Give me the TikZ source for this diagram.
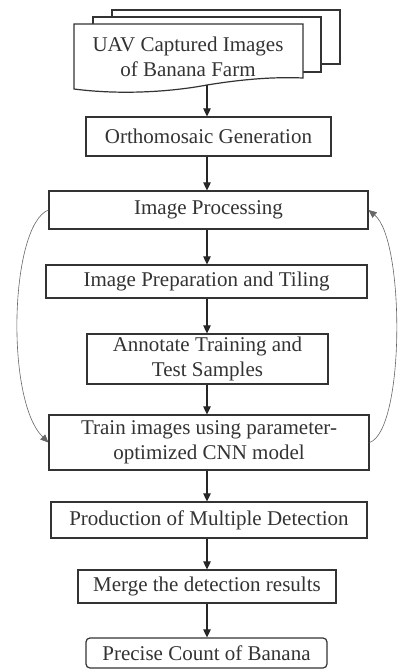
\documentclass[tikz,border=0pt]{standalone}
\usepackage{fontspec}
\setmainfont{Liberation Serif}
\usetikzlibrary{arrows.meta}
\begin{document}
\begin{tikzpicture}[x=1pt,y=-1pt,
  box/.style={draw=black!80, line width=1.2pt, fill=white, inner sep=0pt, align=center,
    font=\fontsize{21}{25}\selectfont, text=black!80},
  arr/.style={draw=black!85, line width=1.1pt, -{Triangle[length=8pt,width=7.5pt]}},
  loop/.style={draw=black!60, line width=0.6pt, -{Triangle[length=8pt,width=7pt]}},
  docline/.style={draw=black!80, line width=1.2pt, fill=white}]
\useasboundingbox (0,0) rectangle (398,669);
% stacked documents
\draw[docline] (112,10) rectangle (340,64);
\draw[docline] (93,17) rectangle (321,72);
\draw[docline] (74,24) -- (303,24) -- (303,78)
  .. controls (280,77) and (250,78) .. (207,85)
  .. controls (170,92) and (120,95) .. (74,89) -- cycle;
\node[font=\fontsize{21}{25}\selectfont, text=black!80, align=center] (uav) at (188,57) {UAV Captured Images\\of Banana Farm};
\coordinate (uavb) at (207,85);
% boxes
\node[box, minimum width=245pt, minimum height=39pt] (ortho) at (208.5,136.5) {Orthomosaic Generation};
\node[box, minimum width=319pt, minimum height=38pt] (proc) at (208.5,210) {Image Processing};
\node[box, minimum width=321pt, minimum height=33pt] (prep) at (206.5,281.5) {Image Preparation and Tiling};
\node[box, minimum width=241pt, minimum height=50pt] (annot) at (207.5,359) {Annotate Training and\\Test Samples};
\node[box, minimum width=320pt, minimum height=55pt] (train) at (209,442.5) {Train images using parameter-\\optimized CNN model};
\node[box, minimum width=316pt, minimum height=36pt] (prod) at (209,520) {Production of Multiple Detection};
\node[box, minimum width=258pt, minimum height=33pt] (merge) at (207,586.5) {Merge the detection results};
\node[box, rounded corners=4pt, minimum width=241pt, minimum height=30pt] (count) at (206.5,653) {Precise Count of Banana};
% straight arrows
\draw[arr] (uavb) -- (uavb |- ortho.north);
\draw[arr] (ortho.south -| 207,0) -- (proc.north -| 207,0);
\draw[arr] (proc.south -| 207,0) -- (prep.north -| 207,0);
\draw[arr] (prep.south -| 207,0) -- (annot.north -| 207,0);
\draw[arr] (annot.south -| 207,0) -- (train.north -| 207,0);
\draw[arr] (train.south -| 207,0) -- (prod.north -| 207,0);
\draw[arr] (prod.south -| 207,0) -- (merge.north -| 207,0);
\draw[arr] (merge.south -| 207,0) -- (count.north -| 207,0);
% feedback curves
\draw[loop] (proc.west) .. controls (10,225) and (5,400) .. (train.west);
\draw[loop] (train.east) .. controls (405,430) and (405,240) .. (proc.east);
\end{tikzpicture}
\end{document}
